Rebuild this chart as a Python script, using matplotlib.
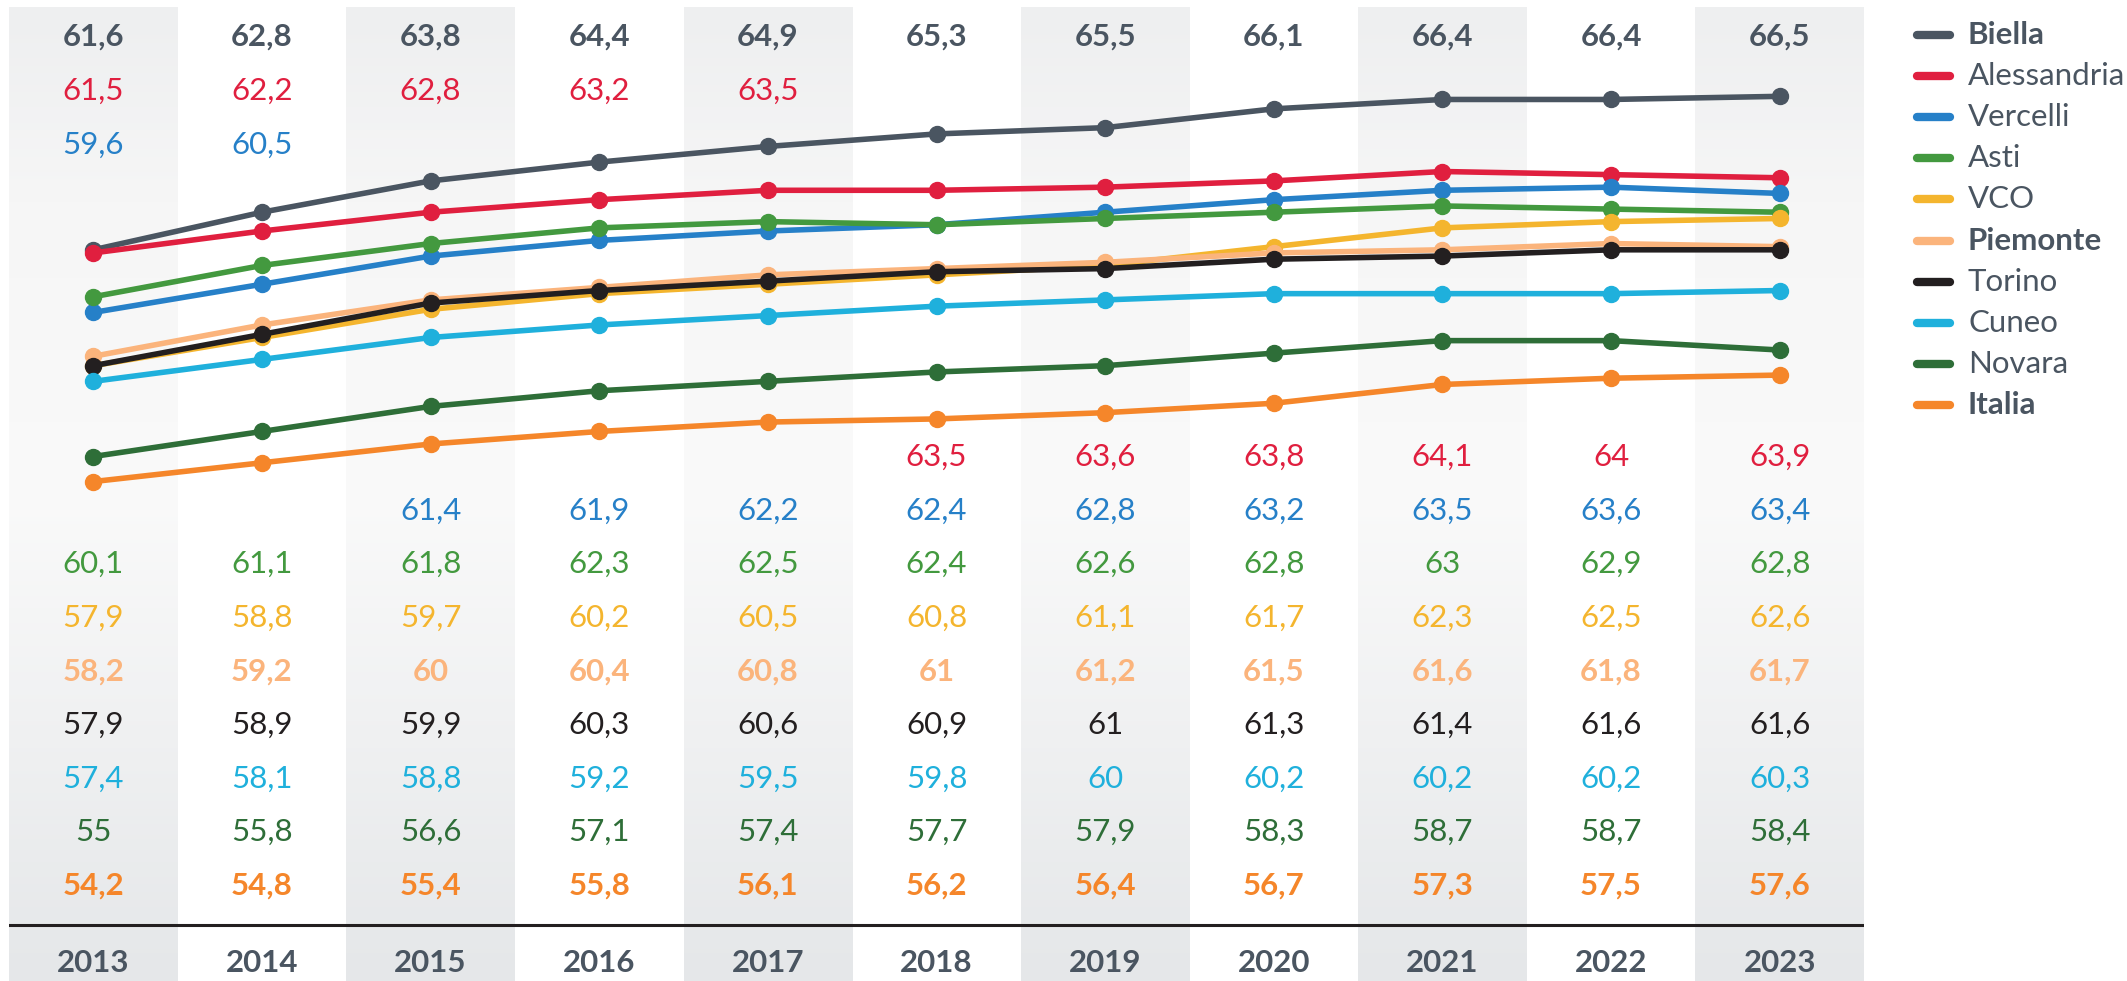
import matplotlib
matplotlib.use('Agg')
import matplotlib.pyplot as plt
import numpy as np
from matplotlib.lines import Line2D
import matplotlib.transforms as mtransforms
from matplotlib.colors import LinearSegmentedColormap

plt.rcParams['font.family'] = ['Lato', 'DejaVu Sans']

years = [2013, 2014, 2015, 2016, 2017, 2018, 2019, 2020, 2021, 2022, 2023]
names = ['Biella', 'Alessandria', 'Vercelli', 'Asti', 'VCO', 'Piemonte',
         'Torino', 'Cuneo', 'Novara', 'Italia']
biella = [61.6, 62.8, 63.8, 64.4, 64.9, 65.3, 65.5, 66.1, 66.4, 66.4, 66.5]
alessandria = [61.5, 62.2, 62.8, 63.2, 63.5, 63.5, 63.6, 63.8, 64.1, 64.0, 63.9]
vercelli = [59.6, 60.5, 61.4, 61.9, 62.2, 62.4, 62.8, 63.2, 63.5, 63.6, 63.4]
asti = [60.1, 61.1, 61.8, 62.3, 62.5, 62.4, 62.6, 62.8, 63.0, 62.9, 62.8]
vco = [57.9, 58.8, 59.7, 60.2, 60.5, 60.8, 61.1, 61.7, 62.3, 62.5, 62.6]
piemonte = [58.2, 59.2, 60.0, 60.4, 60.8, 61.0, 61.2, 61.5, 61.6, 61.8, 61.7]
torino = [57.9, 58.9, 59.9, 60.3, 60.6, 60.9, 61.0, 61.3, 61.4, 61.6, 61.6]
cuneo = [57.4, 58.1, 58.8, 59.2, 59.5, 59.8, 60.0, 60.2, 60.2, 60.2, 60.3]
novara = [55.0, 55.8, 56.6, 57.1, 57.4, 57.7, 57.9, 58.3, 58.7, 58.7, 58.4]
italia = [54.2, 54.8, 55.4, 55.8, 56.1, 56.2, 56.4, 56.7, 57.3, 57.5, 57.6]
series = [biella, alessandria, vercelli, asti, vco, piemonte, torino, cuneo, novara, italia]

colors = ['#4a5561', '#e01f3f', '#2680c8', '#43993f', '#f4b52e', '#fbb47c',
          '#231f20', '#1fb0dc', '#2e6e38', '#f5862a']
bold = [True, False, False, False, False, True, False, False, False, True]

W, H = 2127, 981
fig = plt.figure(figsize=(W / 100, H / 100), dpi=100)
fig.patch.set_facecolor('white')
x0, x1 = 9, 1864
ax = fig.add_axes([x0 / W, 0, (x1 - x0) / W, 1])
ax.set_xlim(-0.5, len(years) - 0.5)

# vertical value scale (pixel mapping)
P_REF, V_REF, PX_PER = 249.8, 61.6, 31.32
def v_at(p):
    return V_REF + (P_REF - p) / PX_PER
ax.set_ylim(v_at(H), v_at(0))
ax.axis('off')

# shaded alternating columns with vertical gradient
cmap = LinearSegmentedColormap.from_list('g', [(0.0, '#e5e7e9'), (0.5, '#fafafa'), (0.8, '#f6f6f6'), (1.0, '#eeeff0')])
grad = np.linspace(0, 1, 256).reshape(-1, 1)
for i in range(0, len(years), 2):
    ax.imshow(grad, cmap=cmap, origin='lower', aspect='auto',
              extent=(i - 0.5, i + 0.5, v_at(H), v_at(7)), zorder=0, interpolation='bilinear')

# lines
xs = np.arange(len(years))
for k, (vals, c) in enumerate(zip(series, colors)):
    ax.plot(xs, vals, color=c, lw=4, marker='o', ms=11.5, zorder=3 + k,
            solid_capstyle='round')

# value labels in rows
trans = mtransforms.blended_transform_factory(ax.transData, fig.transFigure)
def fmt(v):
    return f"{v:g}".replace('.', ',')

top_rows = {0: 37, 1: 91, 2: 145}
low_rows = [None, 457, 511, 564, 618, 672, 725, 779, 832, 886]
top_count = {0: 11, 1: 5, 2: 2}
FS = 22.5
for k, (vals, c, b) in enumerate(zip(series, colors, bold)):
    for i, v in enumerate(vals):
        if k in top_count and i < top_count[k]:
            p = top_rows[k]
        else:
            p = low_rows[k]
        ax.text(i, 1 - p / H, fmt(v), transform=trans, ha='center', va='center',
                fontsize=FS, color=c, fontweight='bold' if b else 'normal', zorder=20)

# baseline
ax.plot([-0.5, len(years) - 0.5], [v_at(925)] * 2, color='#231f20', lw=2.2, zorder=5)

for i, y in enumerate(years):
    ax.text(i, 1 - 963 / H, str(y), transform=trans, ha='center', va='center',
            fontsize=FS, color='#4a5561', fontweight='bold', zorder=20)

# legend
for k, (n, c, b) in enumerate(zip(names, colors, bold)):
    yy = 1 - (35 + 41.1 * k) / H
    fig.add_artist(Line2D([1917 / W, 1950 / W], [yy, yy], transform=fig.transFigure,
                          color=c, lw=6, solid_capstyle='round'))
    fig.text(1968 / W, yy, n, ha='left', va='center', fontsize=FS, color='#4a5561',
             fontweight='bold' if b else 'normal')

fig.savefig('out.png', dpi=100, facecolor='white')
